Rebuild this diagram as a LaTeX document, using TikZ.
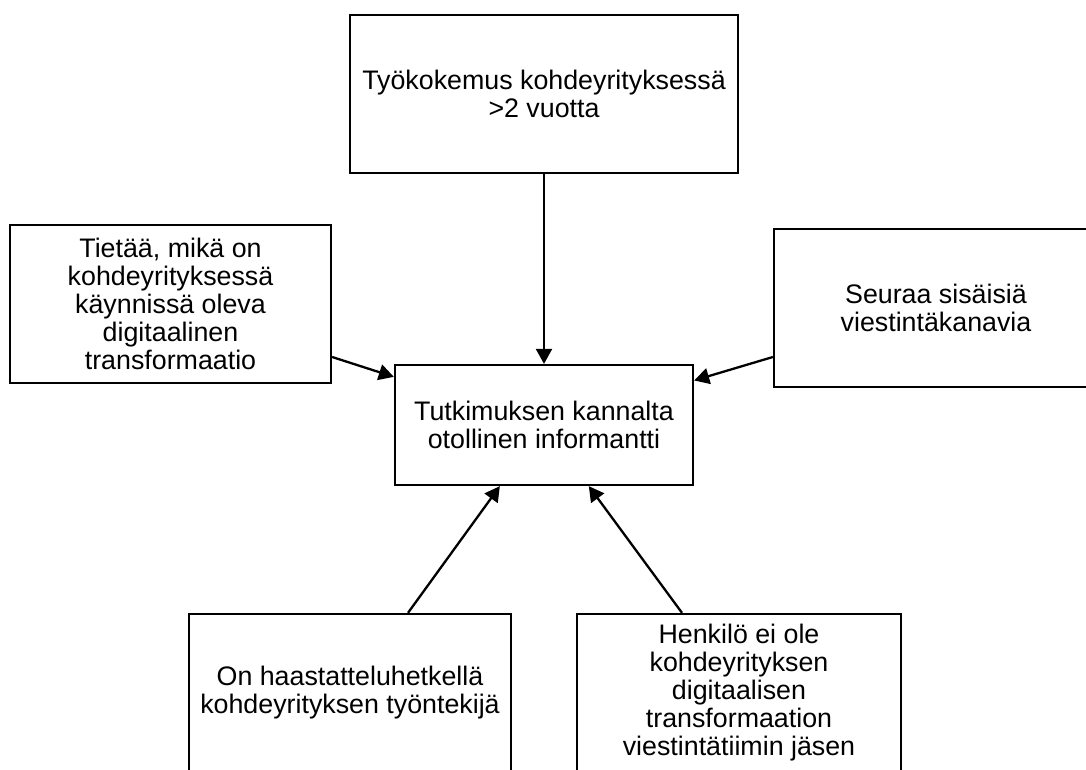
\documentclass[tikz,border=0pt]{standalone}
\usepackage{fontspec}
\setmainfont{Liberation Sans}
\usetikzlibrary{arrows.meta}
\begin{document}
\begin{tikzpicture}[x=1pt,y=-1pt,
  box/.style={draw=black, line width=2.3pt, rectangle, inner sep=0pt, align=center,
    font=\fontsize{26.8}{28}\selectfont, fill=white},
  arr/.style={line width=2.3pt, -{Triangle[length=15pt,width=16pt]}}]
\path[use as bounding box, clip] (0,0) rectangle (1086,769);
\fill[white] (0,0) rectangle (1086,769);
\node[box, minimum width=388pt, minimum height=158pt] (T) at (544,94)
  {Työkokemus kohdeyrityksessä\\>2 vuotta};
\node[box, minimum width=321pt, minimum height=158pt] (L) at (170.5,304)
  {Tietää, mikä on\\kohdeyrityksessä\\käynnissä oleva\\digitaalinen\\transformaatio};
\node[box, minimum width=324pt, minimum height=158pt] (R) at (936,308)
  {Seuraa sisäisiä\\viestintäkanavia};
\node[box, minimum width=298pt, minimum height=120pt] (C) at (544,425)
  {Tutkimuksen kannalta\\otollinen informantti};
\node[box, minimum width=322pt, minimum height=158pt] (BL) at (350,693)
  {On haastatteluhetkellä\\kohdeyrityksen työntekijä};
\node[box, minimum width=324pt, minimum height=158pt] (BR) at (739,693)
  {Henkilö ei ole\\kohdeyrityksen\\digitaalisen\\transformaation\\viestintätiimin jäsen};
\draw[arr] (T) -- (C);
\draw[arr] (L.east |- 0,357) -- (C);
\draw[arr] (R.west |- 0,357) -- (C);
\draw[arr] (BL.north -| 408,0) -- (C);
\draw[arr] (BR.north -| 682,0) -- (C);
\end{tikzpicture}
\end{document}
